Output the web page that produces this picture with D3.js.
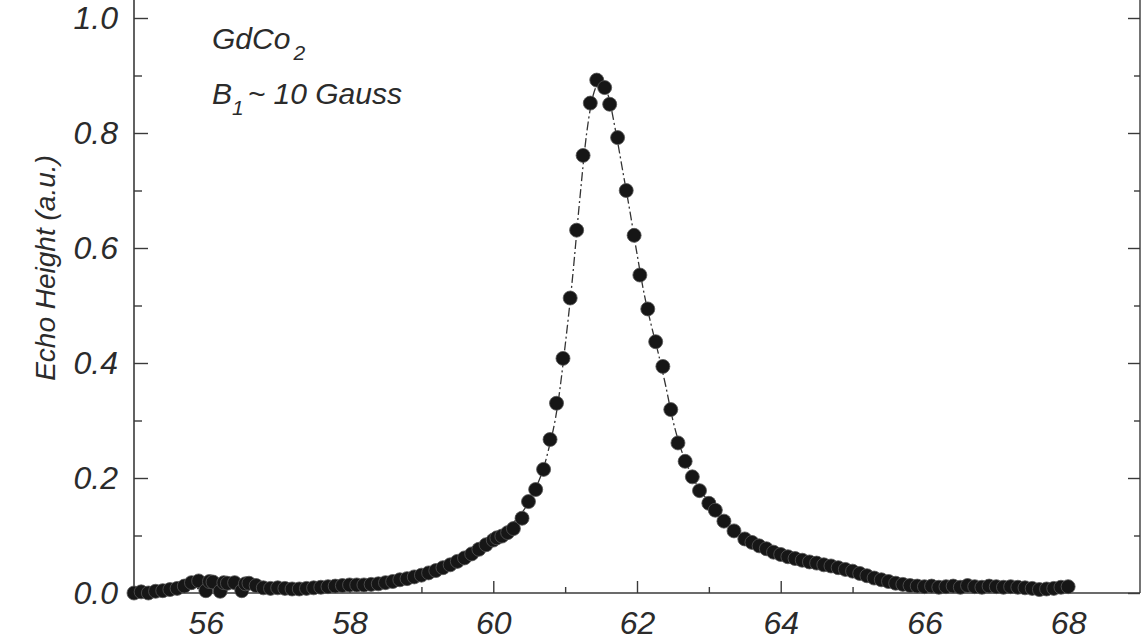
<!DOCTYPE html>
<html>
<head>
<meta charset="utf-8">
<script src="https://cdn.jsdelivr.net/npm/d3@7"></script>
<style>
  html, body { margin: 0; padding: 0; background: #fff; }
  svg { display: block; }
  text { font-family: "Liberation Sans", Arial, sans-serif; font-style: italic; fill: #2b2b2b; }
</style>
</head>
<body>
<div id="chart"></div>
<script>
// frequency (MHz) and echo height (a.u.)
const freq = [
  55.0, 55.1, 55.2, 55.3, 55.4, 55.5, 55.6, 55.7, 55.8, 55.9,
  56.0, 56.05, 56.1, 56.2, 56.25, 56.3, 56.4, 56.5, 56.55, 56.6,
  56.7, 56.8, 56.9, 57.0, 57.1, 57.2, 57.3, 57.4, 57.5, 57.6,
  57.7, 57.8, 57.9, 58.0, 58.1, 58.2, 58.3, 58.4, 58.5, 58.6,
  58.7, 58.8, 58.9, 59.0, 59.1, 59.2, 59.3, 59.4, 59.5, 59.6,
  59.7, 59.8, 59.9, 60.0, 60.05, 60.12, 60.2, 60.28, 60.4, 60.49,
  60.59, 60.7, 60.79, 60.88, 60.97, 61.07, 61.16, 61.25, 61.35, 61.44,
  61.55, 61.62, 61.73, 61.85, 61.96, 62.04, 62.15, 62.26, 62.36, 62.47,
  62.57, 62.67, 62.77, 62.87, 63.0, 63.09, 63.21, 63.35, 63.5, 63.6,
  63.7, 63.8, 63.9, 64.0, 64.1, 64.2, 64.3, 64.4, 64.5, 64.6,
  64.7, 64.8, 64.9, 65.0, 65.1, 65.2, 65.3, 65.4, 65.5, 65.6,
  65.7, 65.8, 65.9, 66.0, 66.1, 66.2, 66.3, 66.4, 66.5, 66.6,
  66.7, 66.8, 66.9, 67.0, 67.1, 67.2, 67.3, 67.4, 67.5, 67.6,
  67.7, 67.8, 67.9, 68.0
];
const echo = [
  0.000, 0.002, 0.000, 0.003, 0.004, 0.006, 0.008, 0.012, 0.018, 0.021,
  0.004, 0.020, 0.019, 0.003, 0.018, 0.017, 0.018, 0.004, 0.016, 0.017,
  0.013, 0.009, 0.008, 0.009, 0.008, 0.007, 0.007, 0.008, 0.009, 0.010,
  0.011, 0.012, 0.013, 0.014, 0.014, 0.014, 0.015, 0.016, 0.018, 0.020,
  0.023, 0.025, 0.028, 0.031, 0.035, 0.039, 0.044, 0.049, 0.055, 0.061,
  0.068, 0.076, 0.084, 0.092, 0.096, 0.099, 0.105, 0.112, 0.130, 0.159,
  0.180, 0.215, 0.267, 0.330, 0.408, 0.513, 0.631, 0.761, 0.852, 0.892,
  0.879, 0.850, 0.792, 0.700, 0.622, 0.553, 0.494, 0.437, 0.394, 0.319,
  0.261, 0.229, 0.202, 0.178, 0.156, 0.144, 0.125, 0.108, 0.094, 0.088,
  0.082, 0.077, 0.071, 0.067, 0.063, 0.060, 0.057, 0.054, 0.052, 0.049,
  0.047, 0.044, 0.041, 0.038, 0.034, 0.030, 0.026, 0.023, 0.020, 0.017,
  0.015, 0.013, 0.012, 0.011, 0.012, 0.010, 0.011, 0.012, 0.010, 0.013,
  0.011, 0.010, 0.012, 0.011, 0.010, 0.011, 0.010, 0.009, 0.008, 0.006,
  0.007, 0.008, 0.010, 0.011
];

// fitted line (dash-dot)
const fitFreq = [55.0, 56.0, 57.0, 58.0, 58.5, 59.0, 59.5, 59.75, 60.0, 60.25,
  60.5, 60.75, 60.9, 61.0, 61.1, 61.2, 61.3, 61.4, 61.5, 61.6,
  61.7, 61.8, 61.9, 62.0, 62.1, 62.2, 62.3, 62.4, 62.5, 62.6,
  62.75, 63.0, 63.25, 63.5, 64.0, 64.5, 65.0, 65.5, 66.0, 67.0, 68.0];
const fitEcho = [0.004, 0.008, 0.013, 0.020, 0.026, 0.035, 0.052, 0.066, 0.088, 0.118,
  0.160, 0.240, 0.330, 0.430, 0.545, 0.680, 0.800, 0.870, 0.890, 0.865,
  0.805, 0.735, 0.665, 0.590, 0.520, 0.465, 0.415, 0.360, 0.300, 0.255,
  0.208, 0.158, 0.122, 0.096, 0.068, 0.050, 0.037, 0.026, 0.018, 0.011, 0.007];

const xMajor = [56, 58, 60, 62, 64, 66, 68];
const xMinor = [57, 59, 61, 63, 65, 67];
const yMajor = [0, 0.2, 0.4, 0.6, 0.8, 1.0];
const yMinor = [0.1, 0.3, 0.5, 0.7, 0.9];

const width = 1144, height = 644;
const x = d3.scaleLinear().domain([55, 69]).range([134, 1140]);
const y = d3.scaleLinear().domain([0, 1]).range([593, 18]);

const svg = d3.select("#chart").append("svg")
  .attr("width", width).attr("height", height);

const axisColor = "#3a3a3a";

// frame (top of it is cut off in the scan)
svg.append("line").attr("x1", x(55)).attr("x2", x(55)).attr("y1", 0).attr("y2", y(0))
  .attr("stroke", axisColor).attr("stroke-width", 1.6);
svg.append("line").attr("x1", x(69)).attr("x2", x(69)).attr("y1", 0).attr("y2", y(0))
  .attr("stroke", axisColor).attr("stroke-width", 1.4);

function styleAxis(g) {
  g.select(".domain").remove();
  g.selectAll(".tick line").attr("stroke", axisColor).attr("stroke-width", 1.4);
  g.selectAll("text").attr("font-size", 32).attr("fill", "#2b2b2b");
}

svg.append("g").attr("transform", `translate(0,${y(0)})`)
  .call(d3.axisBottom(x).tickValues(xMajor).tickSize(-12).tickPadding(18).tickFormat(d3.format("d")))
  .call(styleAxis);
svg.append("g").attr("transform", `translate(0,${y(0)})`)
  .call(d3.axisBottom(x).tickValues(xMinor).tickSize(-6).tickFormat(""))
  .call(styleAxis);
svg.append("line").attr("x1", x(55)).attr("x2", x(69)).attr("y1", y(0)).attr("y2", y(0))
  .attr("stroke", axisColor).attr("stroke-width", 1.6);

svg.append("g").attr("transform", `translate(${x(55)},0)`)
  .call(d3.axisLeft(y).tickValues(yMajor).tickSize(-14).tickPadding(16).tickFormat(d3.format(".1f")))
  .call(styleAxis);
svg.append("g").attr("transform", `translate(${x(55)},0)`)
  .call(d3.axisLeft(y).tickValues(yMinor).tickSize(-8).tickFormat(""))
  .call(styleAxis);
svg.append("g").attr("transform", `translate(${x(69)},0)`)
  .call(d3.axisRight(y).tickValues(yMajor).tickSize(-12).tickFormat(""))
  .call(styleAxis);
svg.append("g").attr("transform", `translate(${x(69)},0)`)
  .call(d3.axisRight(y).tickValues(yMinor).tickSize(-6).tickFormat(""))
  .call(styleAxis);

// fitted curve
const fit = fitFreq.map((f, i) => [f, fitEcho[i]]);
svg.append("path")
  .datum(fit)
  .attr("fill", "none")
  .attr("stroke", "#333")
  .attr("stroke-width", 1.3)
  .attr("stroke-dasharray", "9,3,2,3")
  .attr("d", d3.line().x(d => x(d[0])).y(d => y(d[1])).curve(d3.curveMonotoneX));

// data points
const pts = freq.map((f, i) => ({ f, e: echo[i] }));
svg.append("g")
  .selectAll("circle")
  .data(pts)
  .join("circle")
  .attr("cx", d => x(d.f))
  .attr("cy", d => y(d.e))
  .attr("r", 7)
  .attr("fill", "#161616")
  .attr("stroke", "#555")
  .attr("stroke-width", 0.8);

// y axis title
svg.append("text")
  .attr("transform", "translate(55,268) rotate(-90)")
  .attr("text-anchor", "middle")
  .attr("font-size", 28)
  .text("Echo Height (a.u.)");

// sample annotation
const note = svg.append("g").attr("font-size", 30);
const t1 = note.append("text").attr("x", 212).attr("y", 49);
t1.append("tspan").text("GdCo");
t1.append("tspan").attr("dy", 11).attr("dx", 3).attr("font-size", 21).text("2");
const t2 = note.append("text").attr("x", 212).attr("y", 104);
t2.append("tspan").text("B");
t2.append("tspan").attr("dy", 11).attr("font-size", 21).text("1");
t2.append("tspan").attr("dy", -11).attr("dx", 4).text("~ 10 Gauss");
</script>
</body>
</html>
